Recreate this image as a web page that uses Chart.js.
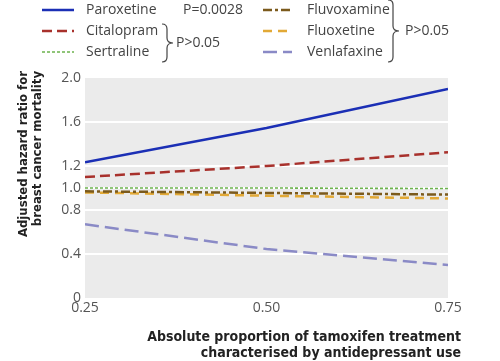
<!DOCTYPE html>
<html>
<head>
<meta charset="utf-8">
<script src="https://cdn.jsdelivr.net/npm/chart.js@4/dist/chart.umd.min.js"></script>
<style>
  html, body { margin: 0; padding: 0; background: #fff; }
  #wrap { width: 500px; height: 361px; position: relative; }
</style>
</head>
<body>
<div id="wrap"><canvas id="hrChart" width="500" height="361"></canvas></div>
<script>
// proportion of tamoxifen treatment characterised by antidepressant use
const proportions = [0.25, 0.50, 0.75];

const paroxetine  = [1.235, 1.545, 1.90];
const citalopram  = [1.10, 1.20, 1.325];
const sertraline  = [1.00, 1.00, 0.995];
const fluvoxamine = [0.97, 0.955, 0.94];
const fluoxetine  = [0.96, 0.93, 0.905];
const venlafaxine = [0.67, 0.445, 0.30];

const yTicks = [0, 0.4, 0.8, 1.0, 1.2, 1.6, 2.0];
const xTicks = [0.25, 0.50, 0.75];

const tickFont = '"Open Sans", "Noto Sans", sans-serif';
const titleFont = '"DejaVu Sans Condensed", "Liberation Sans Narrow", sans-serif';

function toPoints(values) {
  return proportions.map((p, i) => ({ x: p, y: values[i] }));
}

const seriesStyles = [
  { label: 'Paroxetine',  data: paroxetine,  color: '#1b2fb5', dash: [],          width: 2.5 },
  { label: 'Citalopram',  data: citalopram,  color: '#a8312c', dash: [10, 5],     width: 2.5 },
  { label: 'Sertraline',  data: sertraline,  color: '#6cb24e', dash: [3, 2],      width: 1.6 },
  { label: 'Fluvoxamine', data: fluvoxamine, color: '#7b5a1c', dash: [9, 3, 3, 3], width: 2.5 },
  { label: 'Fluoxetine',  data: fluoxetine,  color: '#e2a936', dash: [9, 6],      width: 2.5 },
  { label: 'Venlafaxine', data: venlafaxine, color: '#8a8ac6', dash: [14, 6],     width: 2.5 }
];

// grey panel behind the plot
const panelBg = {
  id: 'panelBg',
  beforeDraw(chart) {
    const { ctx, chartArea: a } = chart;
    ctx.save();
    ctx.fillStyle = '#ebebeb';
    ctx.fillRect(a.left, a.top, a.right - a.left, a.bottom - a.top);
    ctx.restore();
  }
};

function brace(ctx, x, top, bottom, tip) {
  const mid = (top + bottom) / 2;
  ctx.beginPath();
  ctx.moveTo(x, top);
  ctx.quadraticCurveTo(x + 5, top, x + 5, top + 5);
  ctx.lineTo(x + 5, mid - 5);
  ctx.quadraticCurveTo(x + 5, mid, tip, mid);
  ctx.quadraticCurveTo(x + 5, mid, x + 5, mid + 5);
  ctx.lineTo(x + 5, bottom - 5);
  ctx.quadraticCurveTo(x + 5, bottom, x, bottom);
  ctx.stroke();
}

// legend, braces and axis titles
const annotations = {
  id: 'annotations',
  afterDraw(chart) {
    const ctx = chart.ctx;
    ctx.save();

    const rows = [10, 31, 52];
    seriesStyles.forEach((s, i) => {
      const col = i < 3 ? 0 : 1;
      const y = rows[i % 3];
      const x0 = col === 0 ? 42 : 263;
      const x1 = col === 0 ? 74 : 292;
      ctx.strokeStyle = s.color;
      ctx.lineWidth = s.width;
      ctx.setLineDash(s.dash);
      ctx.beginPath();
      ctx.moveTo(x0, y);
      ctx.lineTo(x1, y);
      ctx.stroke();
      ctx.setLineDash([]);
      ctx.fillStyle = '#444';
      ctx.font = '14px ' + tickFont;
      ctx.textAlign = 'left';
      ctx.textBaseline = 'middle';
      ctx.fillText(s.label, col === 0 ? 86 : 307, y);
    });

    ctx.fillText('P=0.0028', 183, 10);
    ctx.strokeStyle = '#444';
    ctx.lineWidth = 1.2;
    brace(ctx, 162, 24, 62, 173);
    ctx.fillText('P>0.05', 176, 43);
    brace(ctx, 388, 0, 62, 399);
    ctx.fillText('P>0.05', 405, 31);

    // y axis title
    ctx.fillStyle = '#222';
    ctx.font = 'bold 13px ' + titleFont;
    ctx.save();
    ctx.translate(24, 71);
    ctx.rotate(-Math.PI / 2);
    ctx.textAlign = 'right';
    ctx.textBaseline = 'middle';
    ctx.fillText('Adjusted hazard ratio for', 0, 0);
    ctx.fillText('breast cancer mortality', 0, 14);
    ctx.restore();

    // x axis title
    ctx.font = 'bold 14px ' + titleFont;
    ctx.textAlign = 'right';
    ctx.textBaseline = 'middle';
    ctx.fillText('Absolute proportion of tamoxifen treatment', 461, 337);
    ctx.fillText('characterised by antidepressant use', 461, 353);
    ctx.restore();
  }
};

new Chart(document.getElementById('hrChart'), {
  type: 'line',
  data: {
    datasets: seriesStyles.map(s => ({
      label: s.label,
      data: toPoints(s.data),
      borderColor: s.color,
      borderWidth: s.width,
      borderDash: s.dash,
      pointRadius: 0,
      tension: 0,
      fill: false
    }))
  },
  options: {
    responsive: false,
    animation: false,
    layout: { padding: { top: 78, right: 52, left: 0, bottom: 0 } },
    plugins: {
      legend: { display: false },
      tooltip: { enabled: false }
    },
    scales: {
      x: {
        type: 'linear',
        min: 0.25,
        max: 0.75,
        afterBuildTicks: axis => { axis.ticks = xTicks.map(v => ({ value: v })); },
        afterFit: axis => { axis.height = 63; },
        grid: { display: false, drawTicks: false },
        border: { display: false },
        ticks: {
          padding: 2,
          color: '#555',
          font: { family: tickFont, size: 14 },
          callback: v => v.toFixed(2),
          maxRotation: 0
        }
      },
      y: {
        min: 0,
        max: 2.0,
        afterBuildTicks: axis => { axis.ticks = yTicks.map(v => ({ value: v })); },
        afterFit: axis => { axis.width = 85; },
        grid: {
          color: ctx => (ctx.tick && (ctx.tick.value === 0 || ctx.tick.value === 2)) ? 'rgba(0,0,0,0)' : '#ffffff',
          lineWidth: 2,
          drawTicks: false
        },
        border: { display: false },
        ticks: {
          padding: 4,
          color: '#555',
          font: { family: tickFont, size: 14 },
          callback: v => v === 0 ? '0' : v.toFixed(1)
        }
      }
    }
  },
  plugins: [panelBg, annotations]
});
</script>
</body>
</html>
